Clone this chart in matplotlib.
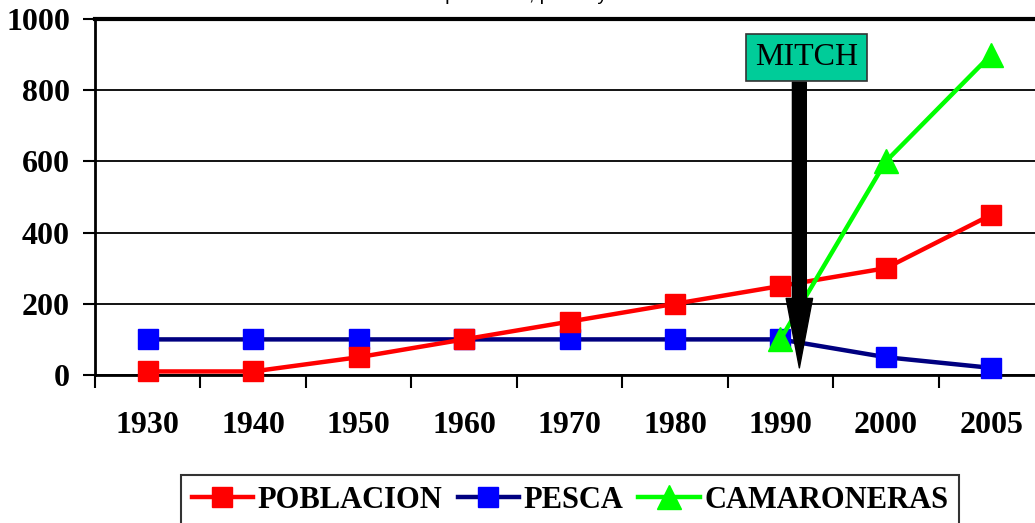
import matplotlib.pyplot as plt
from matplotlib.lines import Line2D

# data
years = ["1930", "1940", "1950", "1960", "1970", "1980", "1990", "2000", "2005"]
poblacion = [10, 10, 50, 100, 150, 200, 250, 300, 450]
pesca = [100, 100, 100, 100, 100, 100, 100, 50, 20]
camaroneras_years = ["1990", "2000", "2005"]
camaroneras = [100, 600, 900]
y_ticks = [0, 200, 400, 600, 800, 1000]

serif = ["Liberation Serif", "DejaVu Serif"]
W, H = 1035, 523
fig = plt.figure(figsize=(W / 100, H / 100), dpi=100)
# plot area runs past the right edge like the source image
ax = fig.add_axes([95 / W, (H - 375) / H, 949 / W, 356 / H])

x = list(range(len(years)))
xc = [years.index(y) for y in camaroneras_years]

ax.plot(x, pesca, color="#000080", lw=3.2, marker="s", ms=15,
        mfc="#0000FF", mec="#0000FF", zorder=3, clip_on=False)
ax.plot(x, poblacion, color="#FF0000", lw=3.2, marker="s", ms=15,
        mfc="#FF0000", mec="#FF0000", zorder=4, clip_on=False)
ax.plot(xc, camaroneras, color="#00FF00", lw=3.2, marker="^", ms=17,
        mfc="#00FF00", mec="#00FF00", zorder=5, clip_on=False)

# hurricane Mitch marker
ax.annotate("", xy=(6.18, 20), xytext=(6.18, 823),
            arrowprops=dict(facecolor="black", edgecolor="black", width=10,
                            headwidth=19, headlength=50, shrink=0),
            zorder=7)
ax.text(6.245, 892, "MITCH", ha="center", va="center", fontsize=23,
        family=serif, zorder=8,
        bbox=dict(boxstyle="square,pad=0.28", facecolor="#00CC99",
                  edgecolor="#333333", lw=1.2))

ax.set_xlim(-0.5, len(years) - 0.5)
ax.set_ylim(0, 1000)
ax.set_yticks(y_ticks)
ax.set_yticklabels([str(v) for v in y_ticks], fontsize=23,
                   fontweight="bold", family=serif)
ax.set_xticks(x)
ax.set_xticklabels(years, fontsize=23, fontweight="bold", family=serif)
ax.set_xticks([i - 0.5 for i in range(len(years) + 1)], minor=True)
ax.tick_params(axis="x", which="major", length=0, pad=26)
ax.tick_params(axis="x", which="minor", length=9, width=1.5, direction="out")
ax.tick_params(axis="y", length=9, width=1.5, direction="out", pad=9)

ax.grid(axis="y", color="black", lw=1.3)
ax.set_axisbelow(True)
for side in ["left", "bottom"]:
    ax.spines[side].set_linewidth(2)
ax.spines["top"].set_linewidth(3)
ax.spines["right"].set_visible(False)

# title mostly cut off by the top edge of the image
fig.text(0.5, 1 + 0.5 / H, "Evolución de la población, pesca y camaroneras",
         ha="center", va="baseline", fontsize=14, family="Liberation Sans")

handles = [
    Line2D([], [], color="#FF0000", lw=3.2, marker="s", ms=15,
           mfc="#FF0000", mec="#FF0000"),
    Line2D([], [], color="#000080", lw=3.2, marker="s", ms=15,
           mfc="#0000FF", mec="#0000FF"),
    Line2D([], [], color="#00FF00", lw=3.2, marker="^", ms=17,
           mfc="#00FF00", mec="#00FF00"),
]
leg = fig.legend(handles, ["POBLACION", "PESCA", "CAMARONERAS"], ncol=3,
                 loc="upper center", bbox_to_anchor=(570 / W, 1 - 475 / H),
                 borderaxespad=0,
                 prop={"family": serif, "weight": "bold", "size": 22},
                 frameon=True, fancybox=False, edgecolor="black",
                 handlelength=2.0, handletextpad=0.15, columnspacing=0.5,
                 borderpad=0.35)
leg.get_frame().set_linewidth(1.5)

fig.savefig("out.png", dpi=100)
